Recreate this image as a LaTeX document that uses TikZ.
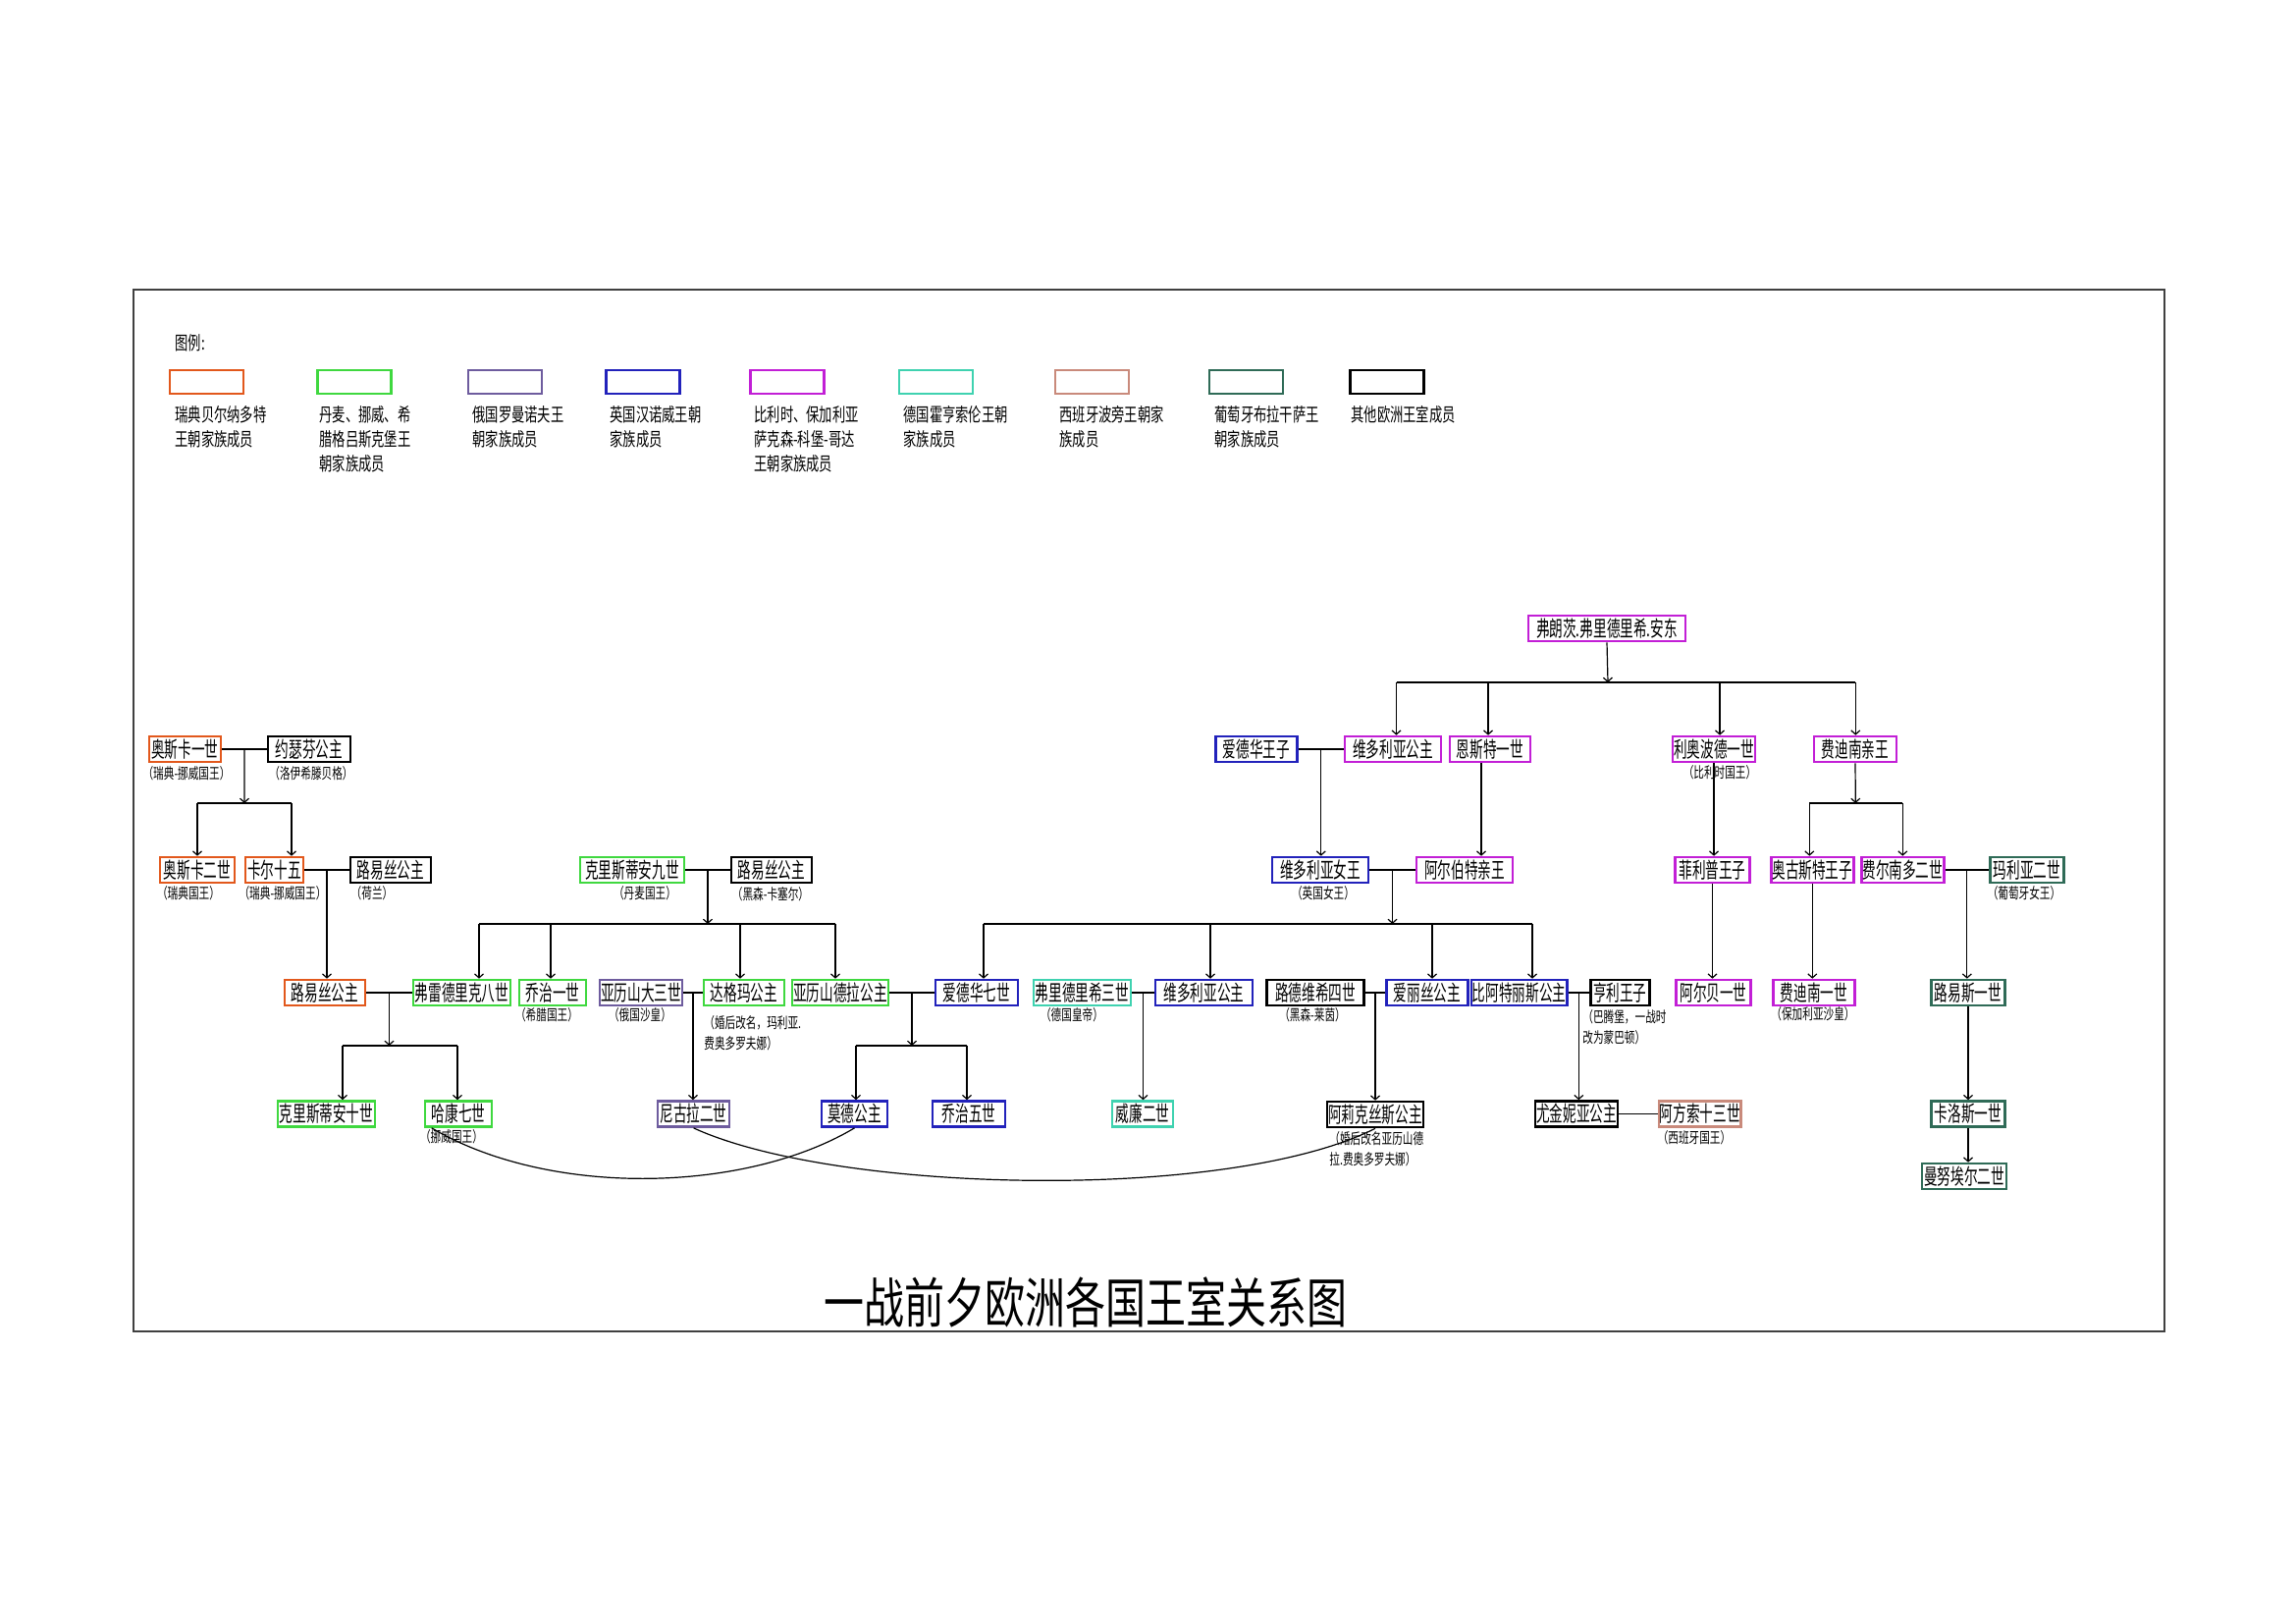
\documentclass[tikz,border=0pt]{standalone}
\usepackage{fontspec}
\usetikzlibrary{arrows.meta,calc}
\newfontfamily\cjkn[FakeStretch=0.62]{Noto Sans CJK SC}
\newfontfamily\cjks[FakeStretch=0.70]{Noto Sans CJK SC}
\newfontfamily\cjkl[FakeStretch=0.70]{Noto Sans CJK SC}
\newfontfamily\cjkt[FakeStretch=0.745]{Noto Sans CJK SC}
\newcommand\myNodeFont{\cjkn\fontsize{11}{13}\selectfont}
\newcommand\mySubFont{\cjks\fontsize{7.6}{10.5}\selectfont}
\newcommand\myLegFont{\cjkl\fontsize{9.5}{12.5}\selectfont}
\newcommand\myTitleFont{\cjkt\fontsize{27.5}{30}\selectfont}
\definecolor{cOr}{HTML}{E2581C}
\definecolor{cGr}{HTML}{3FD83F}
\definecolor{cPu}{HTML}{6E5C9E}
\definecolor{cBl}{HTML}{2222BB}
\definecolor{cMa}{HTML}{C21FD6}
\definecolor{cTe}{HTML}{3FD2B0}
\definecolor{cRo}{HTML}{C98A7B}
\definecolor{cDg}{HTML}{2F6B57}
\definecolor{cFr}{HTML}{404040}
\begin{document}
\begin{tikzpicture}[x=0.5pt,y=-0.5pt,
 pn/.style={draw=#1, line width=1.3pt, minimum height=13pt, inner sep=0.5pt, font=\myNodeFont},
 bw/.style={minimum width=#1*0.5pt},
 sub/.style={inner sep=0pt, font=\mySubFont},
 subl/.style={inner sep=0pt, font=\mySubFont, align=left, anchor=west},
 ln/.style={line width=0.6pt},
 arr/.style={line width=0.6pt, -{Straight Barb[length=2pt,width=4.5pt]}},
 lg/.style={draw=#1, line width=1.2pt, minimum width=37.5pt, minimum height=12pt, inner sep=0pt},
 lgt/.style={inner sep=0pt, font=\myLegFont, align=left, anchor=west}]
\useasboundingbox (0,0) rectangle (2339,1653);
\fill[white] (0,0) rectangle (2339,1653);
\draw[cFr, line width=0.7pt] (136,295) rectangle (2205,1356);

% legend
\node[lgt] (legend) at (178,349) {图例:};
\node[lg=cOr] (k1) at (210.5,389) {};
\node[lg=cGr] (k2) at (361,389) {};
\node[lg=cPu] (k3) at (514.5,389) {};
\node[lg=cBl] (k4) at (655,389) {};
\node[lg=cMa] (k5) at (802,389) {};
\node[lg=cTe] (k6) at (953.5,389) {};
\node[lg=cRo] (k7) at (1112.5,389) {};
\node[lg=cDg] (k8) at (1269.5,389) {};
\node[lg=black] (k9) at (1413,389) {};
\node[lgt] (t1) at (178,434.5) {瑞典贝尔纳多特\\王朝家族成员};
\node[lgt] (t2) at (325,447) {丹麦、挪威、希\\腊格吕斯克堡王\\朝家族成员};
\node[lgt] (t3) at (481,434.5) {俄国罗曼诺夫王\\朝家族成员};
\node[lgt] (t4) at (621,434.5) {英国汉诺威王朝\\家族成员};
\node[lgt] (t5) at (768,447) {比利时、保加利亚\\萨克森-科堡-哥达\\王朝家族成员};
\node[lgt] (t6) at (920,434.5) {德国霍亨索伦王朝\\家族成员};
\node[lgt] (t7) at (1079,434.5) {西班牙波旁王朝家\\族成员};
\node[lgt] (t8) at (1237,434.5) {葡萄牙布拉干萨王\\朝家族成员};
\node[lgt] (t9) at (1376,422) {其他欧洲王室成员};

% row A
\node[pn=cOr,bw=73] (oscar1) at (188.4,763) {奥斯卡一世};
\node[pn=black,bw=84] (josef) at (315,763) {约瑟芬公主};
\node[pn=cBl,bw=83] (edwardp) at (1280,763) {爱德华王子};
\node[pn=cMa,bw=98] (vicp) at (1419,763) {维多利亚公主};
\node[pn=cMa,bw=82] (ernst) at (1518,763) {恩斯特一世};
\node[pn=cMa,bw=83] (leo) at (1746,763) {利奥波德一世};
\node[pn=cMa,bw=84] (ferdp) at (1890,763) {费迪南亲王};
\node[pn=cMa,bw=160] (franz) at (1637,640) {弗朗茨.弗里德里希.安东};

% row B
\node[pn=cOr,bw=76] (oscar2) at (201,886) {奥斯卡二世};
\node[pn=cOr,bw=59] (karl) at (279.5,886) {卡尔十五};
\node[pn=black,bw=82] (louiseNL) at (398,886) {路易丝公主};
\node[pn=cGr,bw=106] (chr9) at (644,886) {克里斯蒂安九世};
\node[pn=black,bw=82] (louiseHK) at (786,886) {路易丝公主};
\node[pn=cBl,bw=98] (victoria) at (1345,886) {维多利亚女王};
\node[pn=cMa,bw=98] (albert) at (1492,886) {阿尔伯特亲王};
\node[pn=cMa,bw=76] (philipp) at (1744.5,886) {菲利普王子};
\node[pn=cMa,bw=84] (august) at (1846.3,886) {奥古斯特王子};
\node[pn=cMa,bw=83] (fern2) at (1938.3,886) {费尔南多二世};
\node[pn=cDg,bw=75] (maria2) at (2065,886) {玛利亚二世};

% row C
\node[pn=cOr,bw=82] (louiseSE) at (331,1011) {路易丝公主};
\node[pn=cGr,bw=99] (fred8) at (470.5,1011) {弗雷德里克八世};
\node[pn=cGr,bw=68] (george1) at (563,1011) {乔治一世};
\node[pn=cPu,bw=82] (alex3) at (653,1011) {亚历山大三世};
\node[pn=cGr,bw=82] (dagmar) at (758,1011) {达格玛公主};
\node[pn=cGr,bw=98] (alexandra) at (856,1011) {亚历山德拉公主};
\node[pn=cBl,bw=84] (edward7) at (995,1011) {爱德华七世};
\node[pn=cTe,bw=99] (fried3) at (1102.5,1011) {弗里德里希三世};
\node[pn=cBl,bw=99] (vicB) at (1226.5,1011) {维多利亚公主};
\node[pn=black,bw=99] (ludwig) at (1340,1011) {路德维希四世};
\node[pn=cBl,bw=83] (alice) at (1454,1011) {爱丽丝公主};
\node[pn=cBl,bw=96] (beatrice) at (1547.6,1011) {比阿特丽斯公主};
\node[pn=black,bw=60] (henry) at (1650.3,1011) {亨利王子};
\node[pn=cMa,bw=76] (albert1) at (1745.5,1011) {阿尔贝一世};
\node[pn=cMa,bw=83] (ferd1) at (1848,1011) {费迪南一世};
\node[pn=cDg,bw=75] (luis1) at (2005,1011) {路易斯一世};

% row D
\node[pn=cGr,bw=99] (chr10) at (332.5,1134.5) {克里斯蒂安十世};
\node[pn=cGr,bw=68] (haakon) at (467,1134.5) {哈康七世};
\node[pn=cPu,bw=73] (nich2) at (706.5,1134.5) {尼古拉二世};
\node[pn=cBl,bw=67] (maud) at (870.5,1134.5) {莫德公主};
\node[pn=cBl,bw=74] (george5) at (987,1134.5) {乔治五世};
\node[pn=cTe,bw=62] (wilhelm2) at (1164,1134.5) {威廉二世};
\node[pn=black,bw=98] (alix) at (1401,1135) {阿莉克丝斯公主};
\node[pn=black,bw=84] (eugenie) at (1606,1134.5) {尤金妮亚公主};
\node[pn=cRo,bw=83] (alfonso) at (1731.7,1134.5) {阿方索十三世};
\node[pn=cDg,bw=75] (carlos) at (2005,1134.5) {卡洛斯一世};
\node[pn=cDg,bw=86] (manuel) at (2001,1198) {曼努埃尔二世};

% sub labels
\node[sub] (l1) at (190,788) {（瑞典-挪威国王）};
\node[sub] (l2) at (317,788) {（洛伊希滕贝格）};
\node[sub] (l3) at (192,910) {（瑞典国王）};
\node[sub] (l4) at (288,910) {（瑞典-挪威国王）};
\node[sub] (l5) at (379,910) {（荷兰）};
\node[sub] (l6) at (657,910) {（丹麦国王）};
\node[sub] (l7) at (785,911) {（黑森-卡塞尔）};
\node[sub] (l8) at (557,1034) {（希腊国王）};
\node[sub] (l9) at (652,1034) {（俄国沙皇）};
\node[subl] (l10) at (717,1052) {（婚后改名，玛利亚.\\费奥多罗夫娜）};
\node[sub] (l11) at (1092,1034) {（德国皇帝）};
\node[sub] (l12) at (1337,1034) {（黑森-莱茵）};
\node[subl] (l13) at (1612,1046) {（巴腾堡，一战时\\改为蒙巴顿）};
\node[sub] (l14) at (1348,910) {（英国女王）};
\node[sub] (l15) at (1752,787) {（比利时国王）};
\node[sub] (l16) at (2062,910) {（葡萄牙女王）};
\node[sub] (l17) at (1847,1033) {（保加利亚沙皇）};
\node[sub] (l18) at (460,1158) {（挪威国王）};
\node[subl] (l19) at (1354,1170) {（婚后改名亚历山德\\拉.费奥多罗夫娜）};
\node[sub] (l20) at (1726,1159) {（西班牙国王）};

% title
\node[inner sep=0pt, font=\myTitleFont] (title) at (1106,1326) {一战前夕欧洲各国王室关系图};

% ---- Sweden
\draw[ln] (oscar1) -- (josef);
\coordinate (s1) at ($(oscar1.east)!.5!(josef.west)$);
\coordinate (s1b) at (249,818);
\coordinate (s1l) at (201,818);
\coordinate (s1r) at (297,818);
\draw[arr] (s1) -- (s1b);
\draw[ln] (s1l) -- (s1r);
\draw[arr] (s1l) -- (s1l |- oscar2.north);
\draw[arr] (s1r) -- (s1r |- karl.north);
\draw[ln] (karl) -- (louiseNL);
\coordinate (s2) at ($(karl.east)!.5!(louiseNL.west)$);
\draw[arr] (s2) -- (s2 |- louiseSE.north);
\draw[ln] (louiseSE) -- (fred8);
\coordinate (s3) at ($(louiseSE.east)!.5!(fred8.west)$);
\coordinate (s3b) at (396.5,1065);
\coordinate (s3l) at (349,1065);
\coordinate (s3r) at (466,1065);
\draw[arr] (s3) -- (s3b);
\draw[ln] (s3l) -- (s3r);
\draw[arr] (s3l) -- (s3l |- chr10.north);
\draw[arr] (s3r) -- (s3r |- haakon.north);

% ---- Denmark
\draw[ln] (chr9) -- (louiseHK);
\coordinate (d1) at ($(chr9.east)!.5!(louiseHK.west)$);
\coordinate (d1b) at (721,941);
\coordinate (d1l) at (488,941);
\coordinate (d1a) at (561,941);
\coordinate (d1c) at (754,941);
\coordinate (d1r) at (851,941);
\draw[arr] (d1) -- (d1b);
\draw[ln] (d1l) -- (d1r);
\draw[arr] (d1l) -- (d1l |- fred8.north);
\draw[arr] (d1a) -- (d1a |- george1.north);
\draw[arr] (d1c) -- (d1c |- dagmar.north);
\draw[arr] (d1r) -- (d1r |- alexandra.north);
\draw[ln] (alex3) -- (dagmar);
\coordinate (d2) at ($(alex3.east)!.5!(dagmar.west)$);
\draw[arr] (d2) -- (d2 |- nich2.north);
\draw[ln] (alexandra) -- (edward7);
\coordinate (d3) at ($(alexandra.east)!.5!(edward7.west)$);
\coordinate (d3b) at (929,1065);
\coordinate (d3l) at (872,1065);
\coordinate (d3r) at (985,1065);
\draw[arr] (d3) -- (d3b);
\draw[ln] (d3l) -- (d3r);
\draw[arr] (d3l) -- (d3l |- maud.north);
\draw[arr] (d3r) -- (d3r |- george5.north);

% ---- Britain / Coburg
\draw[ln] (edwardp) -- (vicp);
\coordinate (u1) at ($(edwardp.east)!.5!(vicp.west)$);
\draw[arr] (u1) -- (u1 |- victoria.north);
\draw[arr] ([xshift=-4.5pt]ernst.south) -- ([xshift=-4.5pt]ernst.south |- albert.north);
\draw[ln] (victoria) -- (albert);
\coordinate (u3) at ($(victoria.east)!.5!(albert.west)$);
\coordinate (u3b) at (1418.5,941);
\coordinate (u3l) at (1002,941);
\coordinate (u3a) at (1233,941);
\coordinate (u3c) at (1459,941);
\coordinate (u3r) at (1561,941);
\draw[arr] (u3) -- (u3b);
\draw[ln] (u3l) -- (u3r);
\draw[arr] (u3l) -- (u3l |- edward7.north);
\draw[arr] (u3a) -- (u3a |- vicB.north);
\draw[arr] (u3c) -- (u3c |- alice.north);
\draw[arr] (u3r) -- (u3r |- beatrice.north);
\draw[ln] (fried3) -- (vicB);
\coordinate (u4) at ($(fried3.east)!.5!(vicB.west)$);
\draw[arr] (u4) -- (u4 |- wilhelm2.north);
\draw[ln] (ludwig) -- (alice);
\coordinate (u5) at ($(ludwig.east)!.5!(alice.west)$);
\draw[arr] (u5) -- (u5 |- alix.north);
\draw[ln] (beatrice) -- (henry);
\coordinate (u6) at ($(beatrice.east)!.5!(henry.west)$);
\draw[arr] (u6) -- (u6 |- eugenie.north);
\draw[ln] (eugenie) -- (alfonso);

\coordinate (c0) at (1638,695);
\coordinate (c0l) at (1422.5,695);
\coordinate (c0a) at (1516,695);
\coordinate (c0c) at (1752,695);
\coordinate (c0r) at (1890.3,695);
\draw[arr] (franz.south) -- (c0);
\draw[ln] (c0l) -- (c0r);
\draw[arr] (c0l) -- (c0l |- vicp.north);
\draw[arr] (c0a) -- (c0a |- ernst.north);
\draw[arr] (c0c) -- (c0c |- leo.north);
\draw[arr] (c0r) -- (c0r |- ferdp.north);
\draw[arr] (leo.south) -- (leo.south |- philipp.north);
\draw[arr] (philipp.south) -- (philipp.south |- albert1.north);
\coordinate (c1) at (1890.3,818);
\coordinate (c1l) at (1843.3,818);
\coordinate (c1r) at (1938.3,818);
\draw[arr] (ferdp.south) -- (c1);
\draw[ln] (c1l) -- (c1r);
\draw[arr] (c1l) -- (c1l |- august.north);
\draw[arr] (c1r) -- (c1r |- fern2.north);
\draw[arr] (august.south) -- (august.south |- ferd1.north);
\draw[ln] (fern2) -- (maria2);
\coordinate (c2) at ($(fern2.east)!.5!(maria2.west)$);
\draw[arr] (c2) -- (c2 |- luis1.north);
\draw[arr] (luis1.south) -- (luis1.south |- carlos.north);
\draw[arr] (carlos.south) -- (carlos.south |- manuel.north);

% marriages drawn as curves
\draw[ln] ([xshift=4pt]haakon.south west) .. controls (560,1220) and (760,1215) .. (maud.south);
\draw[ln] (nich2.south) .. controls (850,1215) and (1250,1225) .. (alix.south);
\end{tikzpicture}
\end{document}
